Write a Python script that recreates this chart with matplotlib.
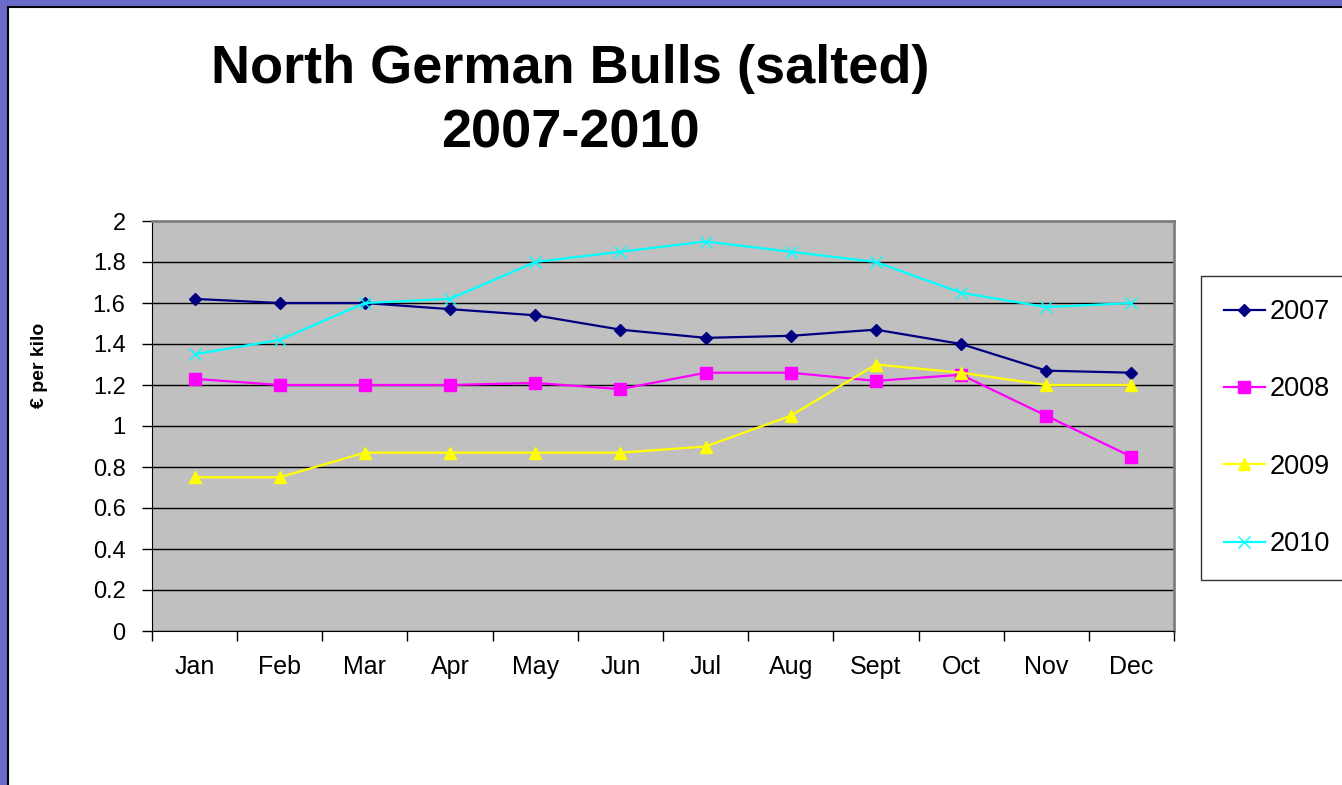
import matplotlib.pyplot as plt
from matplotlib.patches import Rectangle

plt.rcParams['font.family'] = ['Liberation Sans', 'DejaVu Sans']

months = ["Jan", "Feb", "Mar", "Apr", "May", "Jun", "Jul", "Aug", "Sept", "Oct", "Nov", "Dec"]
y2007 = [1.62, 1.60, 1.60, 1.57, 1.54, 1.47, 1.43, 1.44, 1.47, 1.40, 1.27, 1.26]
y2008 = [1.23, 1.20, 1.20, 1.20, 1.21, 1.18, 1.26, 1.26, 1.22, 1.25, 1.05, 0.85]
y2009 = [0.75, 0.75, 0.87, 0.87, 0.87, 0.87, 0.90, 1.05, 1.30, 1.26, 1.20, 1.20]
y2010 = [1.35, 1.42, 1.60, 1.62, 1.80, 1.85, 1.90, 1.85, 1.80, 1.65, 1.58, 1.60]
yticks = [0, 0.2, 0.4, 0.6, 0.8, 1, 1.2, 1.4, 1.6, 1.8, 2]
ytick_labels = ["0", "0.2", "0.4", "0.6", "0.8", "1", "1.2", "1.4", "1.6", "1.8", "2"]

W, H = 1342, 785
fig = plt.figure(figsize=(W / 100, H / 100), dpi=100, facecolor="#6a6ac8")

# white slide panel with black border
fig.patches.append(Rectangle((8 / W, -0.05), 1.1, 1 - 7 / H + 0.05, transform=fig.transFigure,
                             facecolor="white", edgecolor="black", linewidth=1.5, zorder=-5))

ax = fig.add_axes([152 / W, 1 - 631 / H, (1174 - 152) / W, (631 - 221) / H])
ax.set_facecolor("#c0c0c0")

x = list(range(len(months)))
ax.plot(x, y2007, color="#000080", marker="D", markersize=6, linewidth=1.6, label="2007", clip_on=False)
ax.plot(x, y2008, color="#ff00ff", marker="s", markersize=8, linewidth=1.6, label="2008", clip_on=False)
ax.plot(x, y2009, color="#ffff00", marker="^", markersize=8, linewidth=1.6, label="2009", clip_on=False)
ax.plot(x, y2010, color="#00ffff", marker="x", markersize=8, markeredgewidth=1.0, linewidth=1.6,
        label="2010", clip_on=False)

ax.set_xlim(-0.5, 11.5)
ax.set_ylim(0, 2)
ax.set_yticks(yticks)
ax.set_yticklabels(ytick_labels)
ax.yaxis.grid(True, color="black", linewidth=1.0)
ax.set_axisbelow(True)

ax.set_xticks([i + 0.5 for i in range(-1, 12)], minor=False)
ax.set_xticklabels([])
ax.set_xticks(x, minor=True)
ax.set_xticklabels(months, minor=True)
ax.tick_params(axis="x", which="major", direction="out", length=7, width=1, color="black")
ax.tick_params(axis="x", which="minor", length=0, pad=17, labelsize=18)
ax.tick_params(axis="y", direction="out", length=7, width=1, color="black", pad=12, labelsize=17)

for side in ["top", "right"]:
    ax.spines[side].set_color("#808080")
    ax.spines[side].set_linewidth(2)
ax.spines["left"].set_color("black")
ax.spines["bottom"].set_color("black")

ax.set_ylabel("€ per kilo", fontsize=14, fontweight="bold")
ax.yaxis.set_label_coords((48 - 152) / 1022, (631 - 365) / 410)

fig.text(570 / W, 1 - 83 / H, "North German Bulls (salted)", ha="center", va="baseline",
         fontsize=39, fontweight="bold")
fig.text(570 / W, 1 - 147 / H, "2007-2010", ha="center", va="baseline",
         fontsize=39, fontweight="bold")

leg = fig.legend(loc="upper left", bbox_to_anchor=(1201 / W, 1 - 276 / H), fontsize=19.5,
                 frameon=True, fancybox=False, edgecolor="black", labelspacing=1.9,
                 borderpad=0.85, handlelength=1.5, handletextpad=0.2, borderaxespad=0)
leg.get_frame().set_linewidth(1.0)

fig.savefig("out.png", dpi=100, facecolor=fig.get_facecolor())
